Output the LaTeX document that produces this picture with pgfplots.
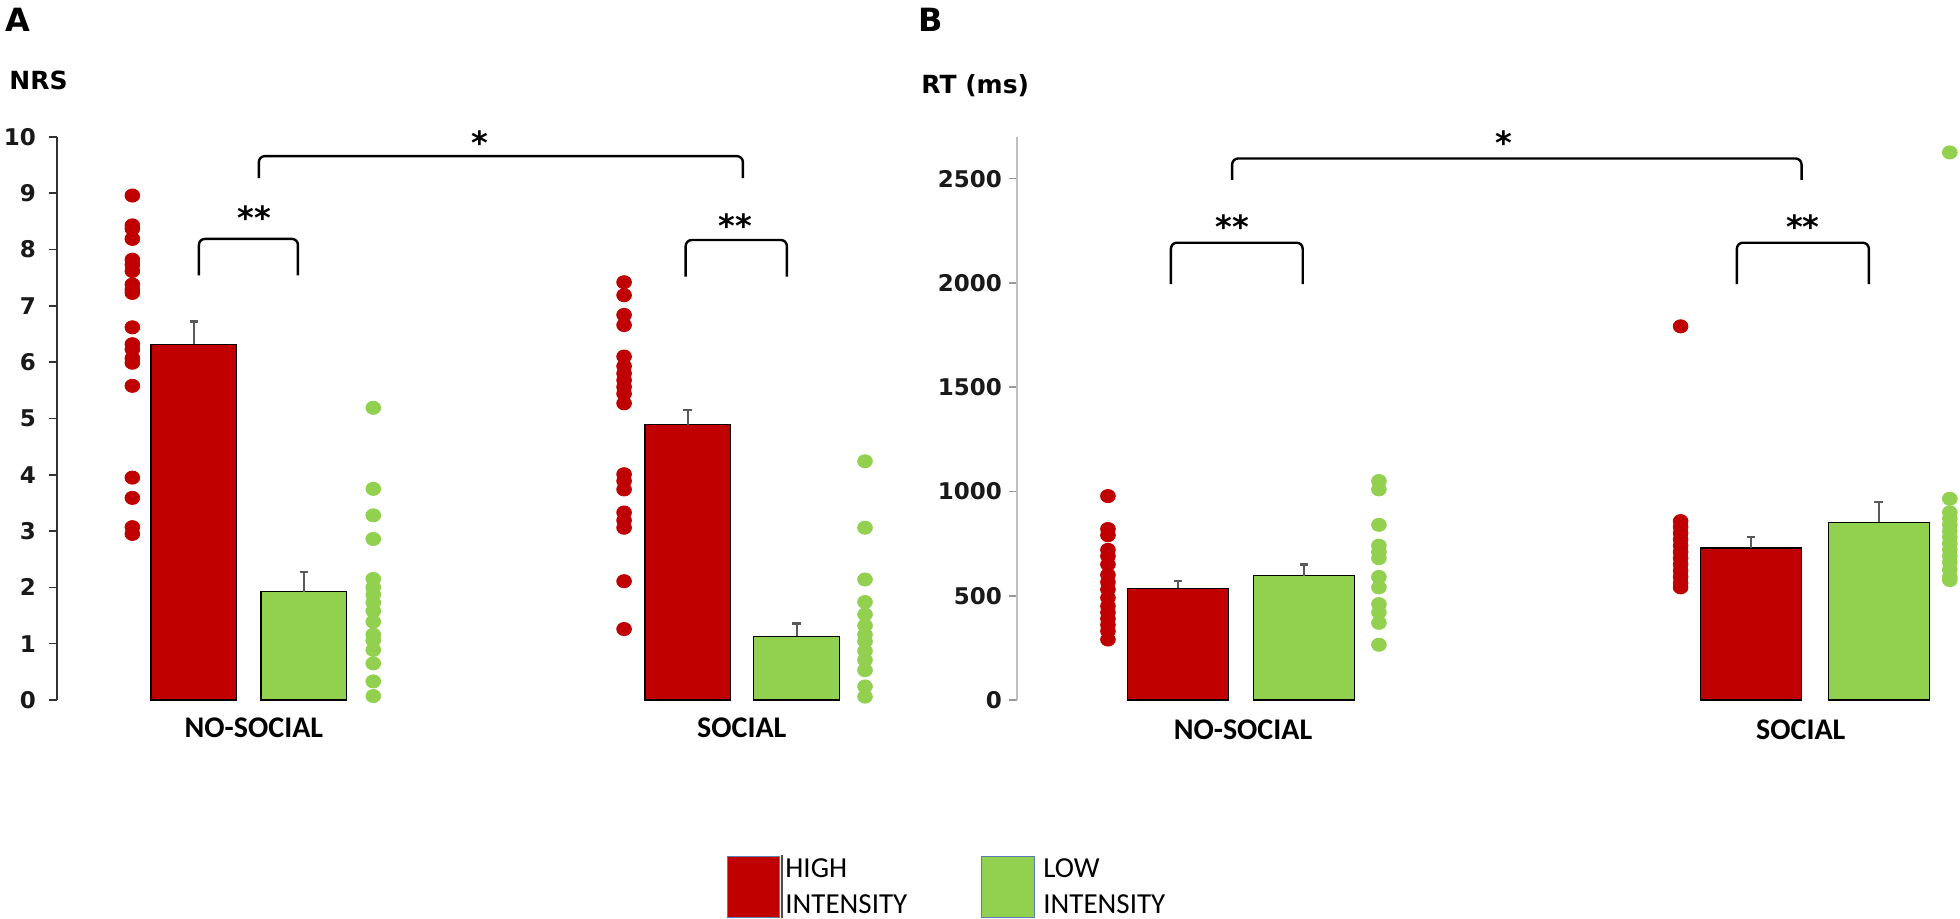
\documentclass[border=0pt]{standalone}
\usepackage{fontspec}
\setmainfont{DejaVu Sans}
\newfontfamily\carlito{Carlito}
\usepackage{pgfplots}
\pgfplotsset{compat=1.18}
\definecolor{hired}{HTML}{C00000}
\definecolor{logreen}{HTML}{92D050}
\definecolor{errgray}{HTML}{595959}
\definecolor{axgray}{HTML}{BFBFBF}
\definecolor{legblue}{HTML}{5B7DB1}
\pgfplotsset{
  panel/.style={
    scale only axis, clip=false, anchor=south west,
    axis lines*=left,
    x axis line style={draw=none},
    xtick style={draw=none},
    tick align=outside,
    major tick length=4bp,
    ymin=0,
    scaled y ticks=false,
    /pgf/number format/1000 sep={},
    /pgf/number format/assume math mode=true,
    yticklabel style={font=\fontsize{11.5bp}{12bp}\selectfont\bfseries, text=black!90},
    xticklabel style={font=\carlito\bfseries\fontsize{15bp}{16bp}\selectfont, anchor=center},
  },
  mybar/.style={ybar, bar shift=0pt, draw=black, line width=0.6bp,
    error bars/y dir=plus, error bars/y explicit,
    error bars/error bar style={color=errgray, line width=1.2bp},
    error bars/error mark options={rotate=90, mark size=2.2bp, line width=1.2bp, color=errgray}},
  mydots/.style={only marks, mark=*, mark size=3.3bp, mark options={xscale=1.12}},
}
\tikzset{
  brk/.style={line width=1.2bp, rounded corners=3bp},
  stars/.style={font=\fontsize{16bp}{16bp}\selectfont\bfseries, anchor=base, yshift=-9bp, inner sep=0pt},
}
\begin{document}
\begin{tikzpicture}
\path[use as bounding box] (0,0) rectangle (980bp,459.5bp);
% ---------------- Panel A ----------------
\begin{axis}[panel, at={(28.5bp,109.5bp)}, width=415bp, height=281.5bp,
  xmin=-0.245, xmax=7.3, ymax=10, ytick={0,1,...,10},
  y axis line style={draw=black!80, line width=0.8bp},
  ytick style={draw=black!80, line width=0.8bp},
  yticklabel style={xshift=-3bp},
  xtick={1.545,5.98}, xticklabels={NO-SOCIAL,SOCIAL},
  xticklabel style={yshift=-10bp}]
\addplot[mybar, bar width=0.78, fill=hired] coordinates {(1,6.32) +- (0,0.40) (5.49,4.89) +- (0,0.26)};
\addplot[mybar, bar width=0.78, fill=logreen] coordinates {(2,1.92) +- (0,0.35) (6.48,1.13) +- (0,0.23)};
\addplot[mydots, color=hired] coordinates {
 (0.44,8.96) (0.44,8.43) (0.44,8.37) (0.44,8.19) (0.44,7.82) (0.44,7.73) (0.44,7.62)
 (0.44,7.38) (0.44,7.29) (0.44,7.23) (0.44,6.62) (0.44,6.32) (0.44,6.23) (0.44,6.07)
 (0.44,5.99) (0.44,5.58) (0.44,3.95) (0.44,3.59) (0.44,3.07) (0.44,2.95)};
\addplot[mydots, color=logreen] coordinates {
 (2.63,5.19) (2.63,3.75) (2.63,3.28) (2.63,2.86) (2.63,2.15) (2.63,2.00) (2.63,1.87)
 (2.63,1.73) (2.63,1.58) (2.63,1.39) (2.63,1.16) (2.63,1.06) (2.63,0.89) (2.63,0.65)
 (2.63,0.33) (2.63,0.07)};
\addplot[mydots, color=hired] coordinates {
 (4.91,7.42) (4.91,7.19) (4.91,6.84) (4.91,6.66) (4.91,6.10) (4.91,5.93) (4.91,5.80)
 (4.91,5.68) (4.91,5.56) (4.91,5.44) (4.91,5.27) (4.91,4.01) (4.91,3.89) (4.91,3.74)
 (4.91,3.33) (4.91,3.19) (4.91,3.06) (4.91,2.11) (4.91,1.26)};
\addplot[mydots, color=logreen] coordinates {
 (7.1,4.24) (7.1,3.06) (7.1,2.14) (7.1,1.74) (7.1,1.52) (7.1,1.32) (7.1,1.16)
 (7.1,1.04) (7.1,0.87) (7.1,0.71) (7.1,0.53) (7.1,0.24) (7.1,0.06)};
\draw[brk] (axis cs:1.045,7.54) -- (axis cs:1.045,8.19) -- (axis cs:1.945,8.19) -- (axis cs:1.945,7.54);
\draw[brk] (axis cs:5.47,7.52) -- (axis cs:5.47,8.17) -- (axis cs:6.39,8.17) -- (axis cs:6.39,7.52);
\draw[brk] (axis cs:1.59,9.27) -- (axis cs:1.59,9.66) -- (axis cs:5.99,9.66) -- (axis cs:5.99,9.27);
\node[stars] at (axis cs:1.55,8.67) {**};
\node[stars] at (axis cs:5.92,8.53) {**};
\node[stars] at (axis cs:3.6,10.0) {*};
\end{axis}
% ---------------- Panel B ----------------
\begin{axis}[panel, at={(508.5bp,109.5bp)}, width=471bp, height=281.5bp,
  xmin=-0.278, xmax=7.2, ymax=2700, ytick={0,500,...,2500},
  y axis line style={draw=axgray, line width=0.8bp},
  ytick style={draw=gray!80, line width=0.8bp},
  xtick={1.516,5.944}, xticklabels={NO-SOCIAL,SOCIAL},
  xticklabel style={yshift=-11bp}]
\addplot[mybar, bar width=0.80, fill=hired] coordinates {(1,536) +- (0,34) (5.548,729) +- (0,54)};
\addplot[mybar, bar width=0.80, fill=logreen] coordinates {(2,596) +- (0,54) (6.563,853) +- (0,97)};
\addplot[mydots, color=hired] coordinates {
 (0.444,978) (0.444,820) (0.444,790) (0.444,720) (0.444,690) (0.444,650) (0.444,600)
 (0.444,565) (0.444,530) (0.444,490) (0.444,450) (0.444,420) (0.444,390) (0.444,360)
 (0.444,330) (0.444,290)};
\addplot[mydots, color=logreen] coordinates {
 (2.595,1050) (2.595,1010) (2.595,840) (2.595,740) (2.595,710) (2.595,680) (2.595,590)
 (2.595,540) (2.595,460) (2.595,420) (2.595,370) (2.595,265)};
\addplot[mydots, color=hired] coordinates {
 (4.99,1792) (4.99,858) (4.99,830) (4.99,800) (4.99,770) (4.99,740) (4.99,710)
 (4.99,680) (4.99,650) (4.99,620) (4.99,590) (4.99,560) (4.99,540)};
\addplot[mydots, color=logreen] coordinates {
 (7.127,2626) (7.127,965) (7.127,900) (7.127,870) (7.127,840) (7.127,810) (7.127,780)
 (7.127,750) (7.127,720) (7.127,690) (7.127,660) (7.127,625) (7.127,590) (7.127,575)};
\draw[brk] (axis cs:0.944,1994) -- (axis cs:0.944,2193) -- (axis cs:1.99,2193) -- (axis cs:1.99,1994);
\draw[brk] (axis cs:5.437,1994) -- (axis cs:5.437,2193) -- (axis cs:6.484,2193) -- (axis cs:6.484,1994);
\draw[brk] (axis cs:1.43,2494) -- (axis cs:1.43,2597) -- (axis cs:5.95,2597) -- (axis cs:5.95,2494);
\node[stars] at (axis cs:1.43,2298) {**};
\node[stars] at (axis cs:5.96,2298) {**};
\node[stars] at (axis cs:3.59,2701) {*};
\end{axis}
% ---------------- Titles ----------------
\node[anchor=base west, inner sep=0pt, font=\fontsize{16bp}{16bp}\selectfont\bfseries] at (2.5bp,443.5bp) {A};
\node[anchor=base west, inner sep=0pt, font=\fontsize{16bp}{16bp}\selectfont\bfseries] at (459bp,443.5bp) {B};
\node[anchor=base west, inner sep=0pt, font=\fontsize{12.5bp}{13bp}\selectfont\bfseries] at (4.5bp,414.5bp) {NRS};
\node[anchor=base west, inner sep=0pt, font=\fontsize{12.5bp}{13bp}\selectfont\bfseries] at (460.5bp,412.5bp) {RT (ms)};
% ---------------- Legend ----------------
\fill[hired] (363.5bp,1bp) rectangle (389.5bp,31bp);
\draw[legblue, line width=0.5bp] (363.5bp,1bp) rectangle (389.5bp,31bp);
\draw[black!70, line width=0.6bp] (391bp,0.5bp) -- (391bp,32bp);
\fill[logreen] (490.5bp,1bp) rectangle (517bp,31bp);
\draw[legblue, line width=0.5bp] (490.5bp,1bp) rectangle (517bp,31bp);
\node[anchor=base west, inner sep=0pt, font=\carlito\fontsize{14.5bp}{15bp}\selectfont] at (392.5bp,21bp) {HIGH};
\node[anchor=base west, inner sep=0pt, font=\carlito\fontsize{14.5bp}{15bp}\selectfont] at (392.5bp,3bp) {INTENSITY};
\node[anchor=base west, inner sep=0pt, font=\carlito\fontsize{14.5bp}{15bp}\selectfont] at (521.5bp,21bp) {LOW};
\node[anchor=base west, inner sep=0pt, font=\carlito\fontsize{14.5bp}{15bp}\selectfont] at (521.5bp,3bp) {INTENSITY};
\end{tikzpicture}
\end{document}
